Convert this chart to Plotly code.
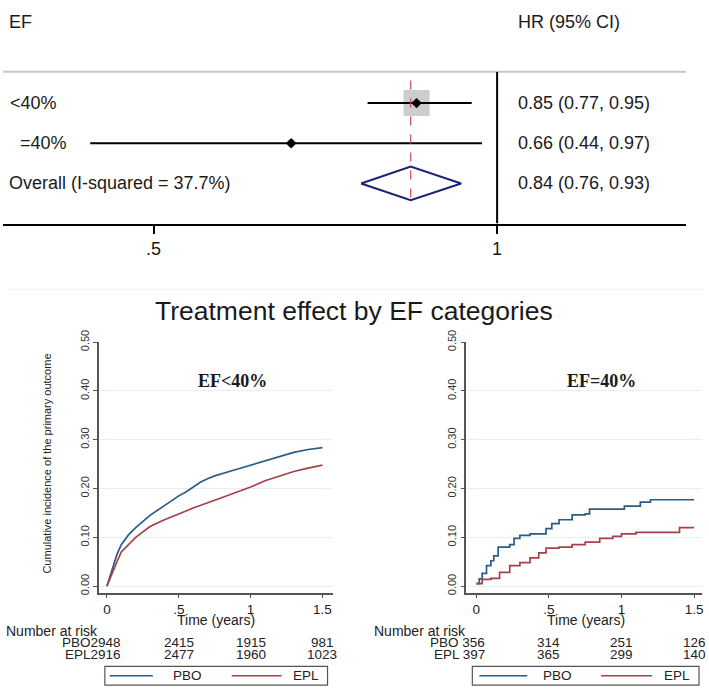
import math
import plotly.graph_objects as go

W, H = 709, 690
def px(x):
    return x / W
def py(y):
    return 1 - y / H

SANS = "Liberation Sans, Arial, sans-serif"
SERIF = "Liberation Serif, Times New Roman, serif"

# ---------------- forest plot data ----------------
ef_labels = ["<40%", "=40%"]
hr = [0.85, 0.66]
ci_lo = [0.77, 0.44]
ci_hi = [0.95, 0.97]
overall_label = "Overall (I-squared = 37.7%)"
overall_hr = 0.84
overall_lo = 0.76
overall_hi = 0.93
forest_tickvals = [0.5, 1]
forest_ticktext = [".5", "1"]

# ---------------- KM data (EF<40%) ----------------
t_lt_pbo = [0, 0.02, 0.04, 0.07, 0.10, 0.15, 0.20, 0.30, 0.40, 0.50, 0.55, 0.60, 0.65, 0.70, 0.75, 0.875, 1.0, 1.1, 1.2, 1.3, 1.4, 1.5]
y_lt_pbo = [0, 0.02, 0.04, 0.065, 0.085, 0.105, 0.12, 0.145, 0.165, 0.185, 0.193, 0.203, 0.213, 0.220, 0.226, 0.237, 0.248, 0.256, 0.265, 0.274, 0.280, 0.284]
t_lt_epl = [0, 0.02, 0.04, 0.07, 0.10, 0.15, 0.20, 0.30, 0.40, 0.50, 0.60, 0.75, 0.875, 1.0, 1.1, 1.2, 1.3, 1.4, 1.5]
y_lt_epl = [0, 0.015, 0.03, 0.05, 0.07, 0.086, 0.10, 0.122, 0.136, 0.148, 0.160, 0.176, 0.190, 0.203, 0.216, 0.226, 0.235, 0.242, 0.248]

# ---------------- KM data (EF=40%) ----------------
t_rt_pbo = [0, 0.02, 0.04, 0.07, 0.10, 0.12, 0.15, 0.23, 0.26, 0.30, 0.37, 0.47, 0.48, 0.52, 0.57, 0.66, 0.75, 0.78, 1.02, 1.13, 1.20, 1.5]
y_rt_pbo = [0.005, 0.015, 0.026, 0.042, 0.052, 0.062, 0.080, 0.085, 0.098, 0.104, 0.107, 0.107, 0.118, 0.128, 0.136, 0.146, 0.148, 0.158, 0.164, 0.172, 0.177, 0.177]
t_rt_epl = [0, 0.04, 0.10, 0.16, 0.23, 0.30, 0.37, 0.43, 0.48, 0.57, 0.66, 0.75, 0.85, 0.94, 1.0, 1.10, 1.40, 1.5]
y_rt_epl = [0.005, 0.014, 0.016, 0.028, 0.042, 0.048, 0.058, 0.068, 0.078, 0.080, 0.085, 0.090, 0.098, 0.102, 0.107, 0.110, 0.120, 0.120]

km_tickvals = [0, 0.5, 1, 1.5]
km_ticktext = ["0", ".5", "1", "1.5"]
km_ytickvals = [0, 0.1, 0.2, 0.3, 0.4, 0.5]

# ---------------- number at risk ----------------
risk_times = [0, 0.5, 1, 1.5]
risk_lt_pbo = [2948, 2415, 1915, 981]
risk_lt_epl = [2916, 2477, 1960, 1023]
risk_rt_pbo = [356, 314, 251, 126]
risk_rt_epl = [397, 365, 299, 140]

C_PBO = "#2b5b88"
C_EPL = "#a8404b"
TXT = "#1a1a1a"

fig = go.Figure()

# ---------- forest plot ----------
rows = [i + 1 for i in range(len(hr))]
overall_row = len(hr) + 1
weights = []
for lo, hi in zip(ci_lo, ci_hi):
    se = (math.log(hi) - math.log(lo)) / 3.92
    weights.append(1 / se ** 2)
wmax = max(weights)
box_sizes = [26 * math.sqrt(w / wmax) for w in weights]

fig.add_trace(go.Scatter(x=hr, y=rows, mode="markers", xaxis="x", yaxis="y",
                         marker=dict(symbol="square", size=box_sizes, color="#b8b8b8", line=dict(width=0)),
                         hoverinfo="skip"))
for i in range(len(hr)):
    fig.add_trace(go.Scatter(x=[ci_lo[i], ci_hi[i]], y=[rows[i], rows[i]], mode="lines",
                             xaxis="x", yaxis="y", line=dict(color="black", width=2)))
fig.add_trace(go.Scatter(x=hr, y=rows, mode="markers", xaxis="x", yaxis="y",
                         marker=dict(symbol="diamond", size=8, color="black")))
dh = 0.42
fig.add_trace(go.Scatter(x=[overall_lo, overall_hr, overall_hi, overall_hr, overall_lo],
                         y=[overall_row, overall_row - dh, overall_row, overall_row + dh, overall_row],
                         mode="lines", xaxis="x", yaxis="y", line=dict(color="#1c2275", width=2)))

# ---------- KM curves ----------
fig.add_trace(go.Scatter(x=t_lt_pbo, y=y_lt_pbo, mode="lines", xaxis="x2", yaxis="y2",
                         line=dict(color=C_PBO, width=1.7)))
fig.add_trace(go.Scatter(x=t_lt_epl, y=y_lt_epl, mode="lines", xaxis="x2", yaxis="y2",
                         line=dict(color=C_EPL, width=1.7)))
fig.add_trace(go.Scatter(x=t_rt_pbo, y=y_rt_pbo, mode="lines", xaxis="x3", yaxis="y3",
                         line=dict(color=C_PBO, width=1.7, shape="hv")))
fig.add_trace(go.Scatter(x=t_rt_epl, y=y_rt_epl, mode="lines", xaxis="x3", yaxis="y3",
                         line=dict(color=C_EPL, width=1.7, shape="hv")))

shapes = []
annotations = []

def note(text, x, y, xref="paper", yref="paper", xanchor="left", size=13, family=SANS, color=TXT, **kw):
    annotations.append(dict(text=text, xref=xref, yref=yref, x=x, y=y, xanchor=xanchor, yanchor="middle",
                            showarrow=False, font=dict(size=size, family=family, color=color), **kw))

# forest reference lines
shapes.append(dict(type="line", xref="paper", yref="paper", x0=px(3), x1=px(687), y0=py(61), y1=py(61),
                   line=dict(color="#c8c8c8", width=2)))
shapes.append(dict(type="line", xref="x", yref="y", x0=1, x1=1, y0=0.22, y1=4.0,
                   line=dict(color="black", width=2)))
shapes.append(dict(type="line", xref="x", yref="y", x0=overall_hr, x1=overall_hr, y0=0.44, y1=3.49,
                   line=dict(color="#c44a55", width=1.2, dash="dash")))
# faint separator
shapes.append(dict(type="line", xref="paper", yref="paper", x0=px(8), x1=px(703), y0=py(283), y1=py(283),
                   line=dict(color="#eeeeee", width=1)))

# forest texts
note("EF", px(7), py(10), size=18)
note("HR (95% CI)", px(517), py(10), size=18)
label_x = [8, 18]
for i, lab in enumerate(ef_labels):
    note(lab, px(label_x[i]), rows[i], yref="y", size=18)
    note(f"{hr[i]:.2f} ({ci_lo[i]:.2f}, {ci_hi[i]:.2f})", px(517), rows[i], yref="y", size=18)
note(overall_label, px(7), overall_row, yref="y", size=18)
note(f"{overall_hr:.2f} ({overall_lo:.2f}, {overall_hi:.2f})", px(517), overall_row, yref="y", size=18)

# KM title and panel labels
note("Treatment effect by EF categories", px(354), py(305), xanchor="center", size=26.5)
note("<b>EF<40%</b>", px(233), py(377), xanchor="center", size=18, family=SERIF)
note("<b>EF=40%</b>", px(602), py(377), xanchor="center", size=18, family=SERIF)
note("Cumulative incidence of the primary outcome", px(47), py(461), xanchor="center", size=11,
     color="#222", textangle=-90)
for cx in (216, 587):
    note("Time (years)", px(cx), py(621), xanchor="center", size=14, color="#222")

# number at risk
panels = [
    ("x2", 4, 123, "", risk_lt_pbo, risk_lt_epl),
    ("x3", 373, 488, " ", risk_rt_pbo, risk_rt_epl),
]
for xref, nx, first_right, sep, rp, re in panels:
    note("Number at risk", px(nx), py(632), size=14, color="#222")
    for name, vals, yy in (("PBO", rp, 644), ("EPL", re, 656)):
        note(f"{name}{sep}{vals[0]}", px(first_right), py(yy), xanchor="right", size=13.5, color="#222")
        for t, v in zip(risk_times[1:], vals[1:]):
            note(str(v), t, py(yy), xref=xref, xanchor="center", size=13.5, color="#222")

# legend boxes
legends = [(105, 328, 110, 153, 188, 232, 282, 306), (473, 700, 480, 528, 558, 602, 653, 678)]
for bx0, bx1, b0, b1, ptx, r0, r1, etx in legends:
    shapes.append(dict(type="rect", xref="paper", yref="paper", x0=px(bx0), x1=px(bx1), y0=py(687), y1=py(668),
                       line=dict(color="#555", width=1.2), fillcolor="rgba(0,0,0,0)"))
    shapes.append(dict(type="line", xref="paper", yref="paper", x0=px(b0), x1=px(b1), y0=py(677.5), y1=py(677.5),
                       line=dict(color=C_PBO, width=1.5)))
    shapes.append(dict(type="line", xref="paper", yref="paper", x0=px(r0), x1=px(r1), y0=py(677.5), y1=py(677.5),
                       line=dict(color=C_EPL, width=1.5)))
    note("PBO", px(ptx), py(677.5), xanchor="center", size=13.5, color="#222")
    note("EPL", px(etx), py(677.5), xanchor="center", size=13.5, color="#222")

km_x_common = dict(tickvals=km_tickvals, ticktext=km_ticktext, showline=True, linecolor="#555", linewidth=1.5,
                   ticks="outside", ticklen=3, tickcolor="#555", tickfont=dict(size=13.5, family=SANS, color="#222"),
                   showgrid=False, zeroline=False, fixedrange=True)
km_y_common = dict(range=[-0.014, 0.5], domain=[py(593), py(337)], tickvals=km_ytickvals,
                   ticktext=[f"{v:.2f}" for v in km_ytickvals], tickangle=-90,
                   tickfont=dict(size=11, family=SANS, color="#333"), showline=True, linecolor="#555",
                   linewidth=1.5, ticks="outside", ticklen=4, tickcolor="#555", showgrid=True,
                   gridcolor="#e8eff2", gridwidth=1, zeroline=False, fixedrange=True)

fig.update_layout(
    width=W, height=H, margin=dict(l=0, r=0, t=0, b=0),
    paper_bgcolor="white", plot_bgcolor="white", showlegend=False,
    font=dict(family=SANS),
    xaxis=dict(type="log", range=[math.log10(0.369), math.log10(1.464)], domain=[px(3), px(687)], anchor="y",
               showline=True, linecolor="black", linewidth=2, ticks="outside", ticklen=8, tickwidth=2,
               tickcolor="black", tickvals=forest_tickvals, ticktext=forest_ticktext,
               tickfont=dict(size=18, family=SANS, color=TXT),
               showgrid=False, zeroline=False, fixedrange=True),
    yaxis=dict(domain=[py(216), py(61)], range=[4.0, 0.22], visible=False, anchor="x", fixedrange=True),
    xaxis2=dict(domain=[px(99), px(333)], range=[-0.056, 1.57], anchor="y2", **km_x_common),
    yaxis2=dict(anchor="x2", **km_y_common),
    xaxis3=dict(domain=[px(467), px(703)], range=[-0.069, 1.555], anchor="y3", **km_x_common),
    yaxis3=dict(anchor="x3", **km_y_common),
    shapes=shapes, annotations=annotations,
)

fig.write_html("out.html", config={"displayModeBar": False},
               post_script="document.body.style.margin='0px';document.body.style.overflow='hidden';")
